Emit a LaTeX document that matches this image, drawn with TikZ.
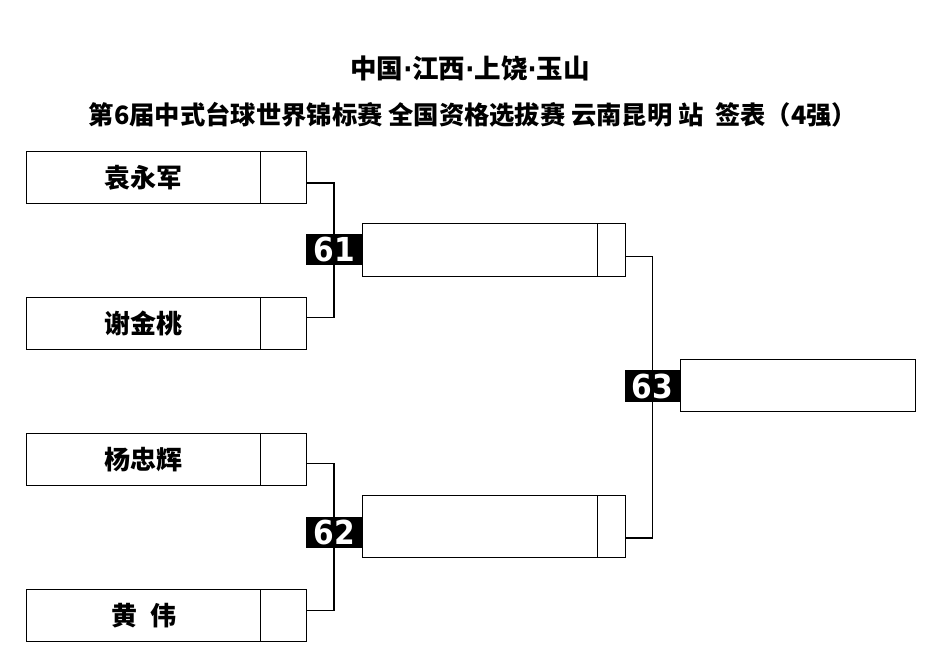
\documentclass[tikz,border=0pt]{standalone}
\usepackage{fontspec}
\usetikzlibrary{calc,backgrounds}
\newfontfamily\cjk{Noto Sans CJK SC}
\newfontfamily\numfont{DejaVu Sans Condensed}
\newcommand{\mdot}{{\numfont\bfseries ·}}
\begin{document}
\begin{tikzpicture}[x=1pt,y=-1pt,
  cell/.style={draw,line width=1.2pt,inner sep=0pt,anchor=north west,fill=white},
  pbox/.style={cell,minimum width=234pt,minimum height=52pt,font=\cjk\bfseries\fontsize{26}{26}\selectfont},
  sbox/.style={cell,minimum width=46pt,minimum height=52pt},
  wbox/.style={cell,minimum width=235pt},
  wsbox/.style={cell,minimum width=28pt},
  tag/.style={fill=black,text=white,inner sep=0pt,minimum width=56pt,minimum height=31pt,font=\numfont\bfseries\fontsize{33}{33}\selectfont},
  link/.style={line width=1.2pt},
  ttl/.style={font=\cjk\bfseries\fontsize{#1}{#1}\selectfont,inner sep=0pt}]
\useasboundingbox (0,0) rectangle (942,667);
% titles
\node[ttl=26.5] (t1) at (470,68) {中国\mdot 江西\mdot 上饶\mdot 玉山};
\node[ttl=25.3] (t2) at (473,115) {第6届中式台球世界锦标赛 全国资格选拔赛 云南昆明 站\ \ 签表（4强）};
% first round
\node[pbox] (p1) at (26,151) {袁永军};
\node[sbox] (s1) at (260,151) {};
\node[pbox] (p2) at (26,297) {谢金桃};
\node[sbox] (s2) at (260,297) {};
\node[pbox] (p3) at (26,433) {杨忠辉};
\node[sbox] (s3) at (260,433) {};
\node[pbox] (p4) at (26,589) {黄\hspace{0.5em}伟};
\node[sbox] (s4) at (260,589) {};
% second round
\node[wbox,minimum height=53pt] (w1) at (362,223) {};
\node[wsbox,minimum height=53pt] (ws1) at (597,223) {};
\node[wbox,minimum height=62pt] (w2) at (362,495) {};
\node[wsbox,minimum height=62pt] (ws2) at (597,495) {};
% final
\node[wbox,minimum height=52pt] (f) at (680,359) {};
% match tags
\node[tag] (m61) at (334,249.5) {61};
\node[tag] (m62) at (334,532) {62};
\node[tag,minimum width=55pt,minimum height=32pt] (m63) at (652.5,386) {63};
% connectors
\begin{scope}[on background layer]
\fill[white] (0,0) rectangle (942,667);
\draw[link] ($(s1.north east)!0.6!(s1.south east)$) -| (m61.center);
\draw[link] ($(s2.north east)!0.385!(s2.south east)$) -| (m61.center);
\draw[link] ($(s3.north east)!0.58!(s3.south east)$) -| (m62.center);
\draw[link] ($(s4.north east)!0.4!(s4.south east)$) -| (m62.center);
\draw[link] ($(ws1.north east)!0.62!(ws1.south east)$) -| (m63.center);
\draw[link] ($(ws2.north east)!0.68!(ws2.south east)$) -| (m63.center);
\end{scope}
\end{tikzpicture}
\end{document}
